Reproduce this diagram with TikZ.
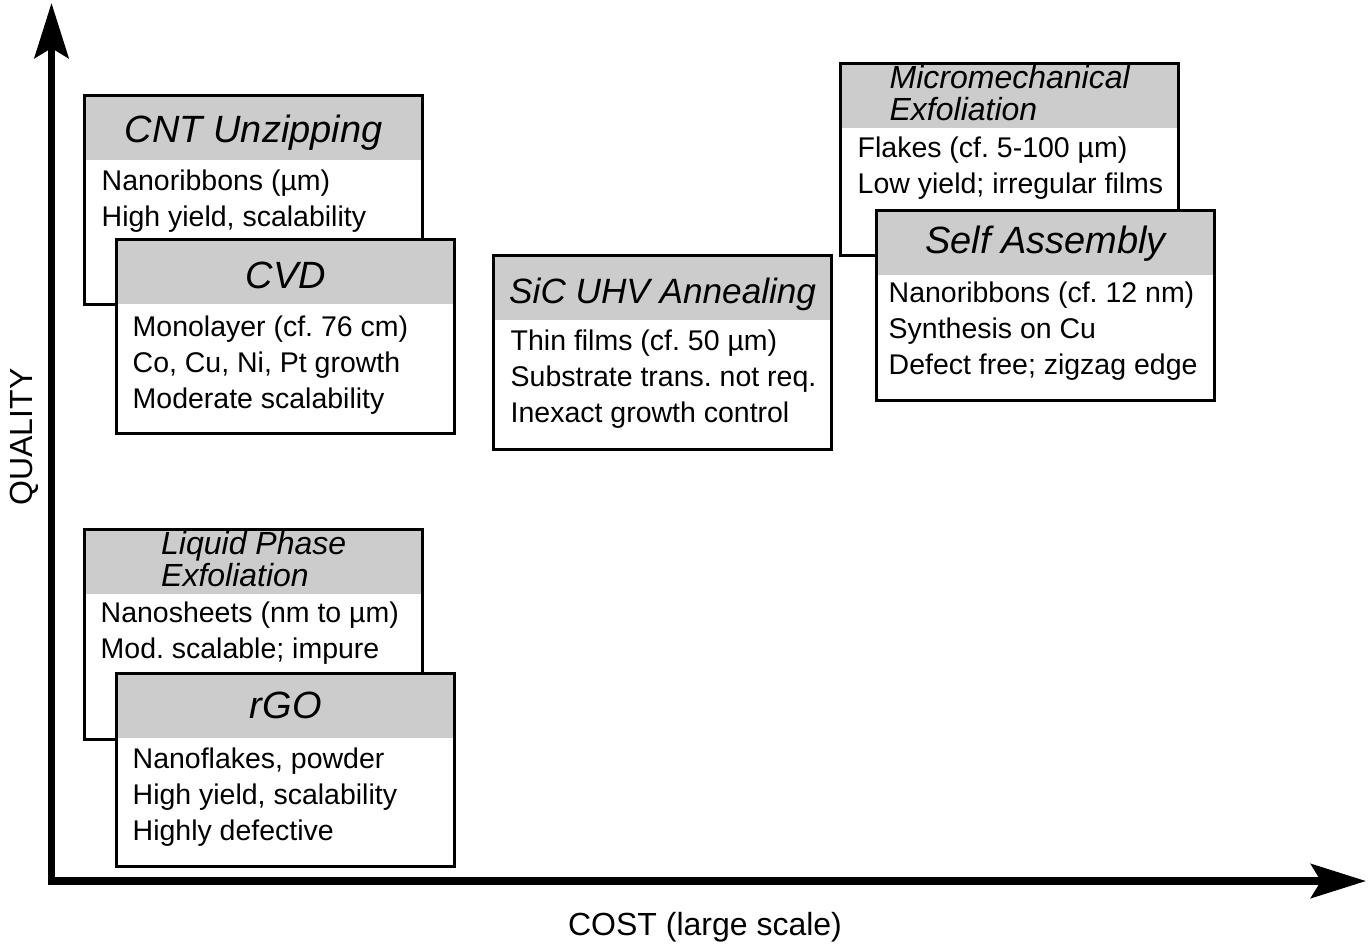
\documentclass[tikz,border=0pt]{standalone}
\usepackage{fontspec}
\setmainfont{Liberation Sans}
\usepackage{tikz}
\usetikzlibrary{arrows.meta}
\definecolor{hdrgray}{RGB}{204,204,204}
\frenchspacing

\begin{document}
\begin{tikzpicture}[x=0.01cm, y=-0.01cm,
  procbox/.style={draw, fill=white, line width=0.9pt, inner sep=0, anchor=north west,
    minimum width=3.38cm, minimum height=#1,
    path picture={\fill[hdrgray] (path picture bounding box.north west) rectangle ([yshift=-0.64cm]path picture bounding box.north east);}},
  hdrtitle/.style={font=\fontsize{10.8}{12}\selectfont\itshape, anchor=base, inner sep=0},
  hdrtwo/.style={font=\fontsize{9.1}{9.1}\selectfont\itshape, align=left, inner sep=0},
  bodyline/.style={font=\fontsize{8.1}{10}\selectfont, anchor=base west, inner sep=0},
  axisline/.style={line width=2.1pt, {Stealth[length=0.55cm, width=0.34cm, inset=0.1cm]}-{Stealth[length=0.55cm, width=0.34cm, inset=0.1cm]}},
  axislabel/.style={font=\fontsize{9.1}{11}\selectfont, anchor=base, inner sep=0}]
\useasboundingbox (0,0) rectangle (1370,947);

% axes
\coordinate (origin) at (51.5,881);
\coordinate (ytip) at (51.5,3);
\coordinate (xtip) at (1366,881);
\draw[axisline] (ytip) -- (origin) -- (xtip);
\node[axislabel] (costlabel) at (705,935) {COST (large scale)};
\node[axislabel, rotate=90] (qualitylabel) at (32,437) {QUALITY};

% upper left
\node[procbox=2.09cm] (cnt) at (83,94) {};
\node[hdrtitle] (cnt-title) at ([shift={(0,48)}]cnt.north) {CNT Unzipping};
\foreach \txt [count=\i] in {Nanoribbons (µm), {High yield, scalability}}
  \node[bodyline] (cnt-\i) at ([shift={(18,60+36*\i)}]cnt.north west) {\txt};

\node[procbox=1.94cm] (cvd) at (115,238) {};
\node[hdrtitle] (cvd-title) at ([shift={(0,50)}]cvd.north) {CVD};
\foreach \txt [count=\i] in {Monolayer (cf. 76 cm), {Co, Cu, Ni, Pt growth}, Moderate scalability}
  \node[bodyline] (cvd-\i) at ([shift={(17,62+36*\i)}]cvd.north west) {\txt};

% middle
\node[procbox=1.94cm] (sic) at (492,254) {};
\node[hdrtitle, font=\fontsize{10}{12}\selectfont\itshape] (sic-title) at ([shift={(0,49)}]sic.north) {SiC UHV Annealing};
\foreach \txt [count=\i] in {Thin films (cf. 50 µm), Substrate trans. not req., Inexact growth control}
  \node[bodyline] (sic-\i) at ([shift={(18,60+36*\i)}]sic.north west) {\txt};

% upper right
\node[procbox=1.92cm] (micro) at (839,62) {};
\node[hdrtwo] (micro-title) at ([shift={(0,31)}]micro.north) {Micromechanical\\Exfoliation};
\foreach \txt [count=\i] in {Flakes (cf. 5-100 µm), {Low yield; irregular films}}
  \node[bodyline] (micro-\i) at ([shift={(18,59+36*\i)}]micro.north west) {\txt};

\node[procbox=1.90cm] (self) at (875,209) {};
\node[hdrtitle] (self-title) at ([shift={(0,44)}]self.north) {Self Assembly};
\foreach \txt [count=\i] in {Nanoribbons (cf. 12 nm), Synthesis on Cu, {Defect free; zigzag edge}}
  \node[bodyline] (self-\i) at ([shift={(13,57+36*\i)}]self.north west) {\txt};

% lower left
\node[procbox=2.10cm] (liquid) at (83,528) {};
\node[hdrtwo] (liquid-title) at ([shift={(0,31)}]liquid.north) {Liquid Phase\\Exfoliation};
\foreach \txt [count=\i] in {Nanosheets (nm to µm), {Mod. scalable; impure}}
  \node[bodyline] (liquid-\i) at ([shift={(17,58+36*\i)}]liquid.north west) {\txt};

\node[procbox=1.93cm] (rgo) at (115,672) {};
\node[hdrtitle] (rgo-title) at ([shift={(0,46)}]rgo.north) {rGO};
\foreach \txt [count=\i] in {{Nanoflakes, powder}, {High yield, scalability}, Highly defective}
  \node[bodyline] (rgo-\i) at ([shift={(17,60+36*\i)}]rgo.north west) {\txt};
\end{tikzpicture}
\end{document}
